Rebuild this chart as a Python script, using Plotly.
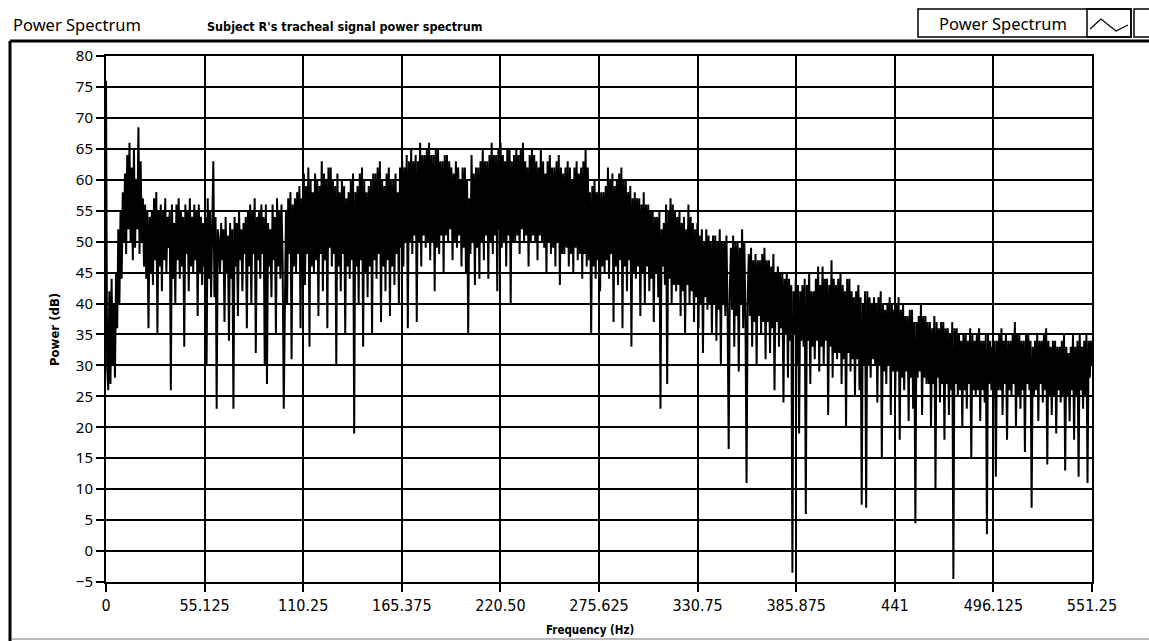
import plotly.graph_objects as go

# ---------------------------------------------------------------------------
# Spectrum data: one value every 0.625 Hz from 0 to 551.25 Hz (dB)
# Each row below covers 10 Hz (16 bins).
# ---------------------------------------------------------------------------
bin_width_hz = 0.625

power_db = [
    76, 30, 26, 42, 27, 44, 30, 40, 28, 45, 36, 52, 40, 55, 44, 58,          # 0 Hz
    50, 61, 48, 64, 52, 66, 50, 62, 47, 65, 49, 60, 52, 68.5, 48, 63,        # 10
    50, 57, 46, 56, 44, 55, 36, 54, 45, 55, 43, 57, 47, 58, 35, 55,          # 20
    46, 56, 42, 55, 47, 57, 45, 54, 49, 55, 26, 56, 44, 53, 40, 56,          # 30
    47, 57, 44, 55, 46, 54, 33, 56, 48, 55, 42, 57, 46, 54, 45, 56,          # 40
    47, 55, 38, 56, 45, 54, 43, 53, 46, 54, 30, 57, 44, 55, 41, 56,          # 50
    63, 41, 54, 23, 52, 50, 45, 53, 47, 52, 37, 54, 45, 51, 34, 53,          # 60
    44, 52, 23, 54, 46, 53, 38, 55, 47, 52, 42, 53, 48, 54, 36, 55,          # 70
    46, 56, 40, 55, 48, 57, 32, 54, 47, 55, 44, 56, 48, 54, 30, 56,          # 80
    27, 53, 46, 52, 41, 56, 47, 54, 35, 57, 46, 55, 44, 56, 47, 23,          # 90
    47, 55, 40, 57, 48, 58, 31, 56, 46, 57, 45, 58, 48, 59, 36, 57,          # 100
    47, 61, 43, 59, 48, 62, 33, 60, 46, 58, 45, 61, 47, 60, 38, 59,          # 110
    48, 63, 42, 61, 47, 60, 36, 62, 49, 62, 46, 60, 48, 59, 30, 61,          # 120
    46, 58, 42, 60, 48, 59, 35, 57, 46, 58, 44, 60, 47, 61, 19, 58,          # 130
    46, 59, 40, 61, 47, 62, 33, 60, 45, 58, 41, 59, 46, 60, 35, 61,          # 140
    47, 61, 44, 62, 48, 63, 37, 60, 46, 59, 42, 61, 47, 62, 38, 60,          # 150
    46, 60, 43, 61, 48, 58, 40, 62, 49, 63, 46, 62, 50, 64, 36, 63,          # 160
    50, 65, 48, 63, 51, 64, 37, 63, 50, 66, 46, 64, 51, 64, 49, 65,          # 170
    50, 66, 47, 64, 50, 64, 42, 65, 49, 65, 48, 63, 51, 63, 45, 64,          # 180
    51, 64, 50, 63, 52, 62, 47, 61, 50, 63, 49, 62, 51, 60, 46, 62,          # 190
    49, 62, 45, 60, 35, 57, 48, 64, 50, 61, 43, 62, 49, 62, 44, 63,          # 200
    50, 65, 47, 63, 51, 63, 44, 64, 50, 66, 48, 64, 51, 64, 42, 65,          # 210
    52, 66, 49, 64, 50, 63, 46, 65, 51, 65, 40, 63, 50, 64, 50, 65,          # 220
    51, 64, 48, 65, 52, 66, 50, 63, 51, 62, 46, 64, 50, 65, 51, 64,          # 230
    50, 63, 47, 62, 51, 65, 50, 63, 49, 61, 45, 63, 50, 64, 48, 62,          # 240
    49, 62, 46, 63, 50, 64, 43, 62, 48, 61, 48, 62, 49, 63, 46, 62,          # 250
    48, 60, 45, 62, 49, 63, 47, 61, 48, 62, 44, 63, 48, 65, 46, 62,          # 260
    47, 58, 35, 59, 46, 60, 44, 58, 47, 59, 42, 58, 46, 58, 45, 59,          # 270
    47, 62, 44, 60, 48, 61, 37, 59, 46, 60, 43, 61, 47, 62, 36, 60,          # 280
    46, 60, 42, 58, 47, 59, 33, 57, 45, 58, 44, 57, 46, 57, 38, 56,          # 290
    45, 58, 40, 56, 46, 56, 42, 55, 44, 55, 37, 54, 45, 54, 41, 55,          # 300
    23, 52, 46, 53, 43, 56, 27, 55, 44, 57, 40, 56, 43, 55, 42, 54,          # 310
    43, 55, 38, 53, 42, 54, 35, 52, 43, 56, 40, 54, 42, 53, 37, 52,          # 320
    41, 53, 36, 51, 40, 52, 32, 50, 41, 52, 39, 51, 40, 50, 35, 51,          # 330
    40, 51, 34, 50, 39, 52, 30, 50, 40, 50, 38, 51, 39, 16.5, 42, 49,        # 340
    39, 51, 33, 50, 38, 50, 29, 49, 40, 52, 36, 50, 38, 11, 41, 48,          # 350
    38, 49, 33, 47, 37, 48, 30, 47, 38, 47, 35, 48, 37, 49, 31, 47,          # 360
    37, 47, 32, 46, 36, 48, 26, 45, 37, 46, 33, 45, 36, 45, 24, 44,          # 370
    35, 45, 28, 44, 34, 43, -3.5, 42, 35, 44, 30, 43, 19, 42, 34, 43,        # 380
    33, 44, 6, 43, 34, 45, 27, 42, 33, 42, 31, 44, 34, 46, 29, 43,           # 390
    33, 46, 30, 44, 34, 44, 22, 43, 33, 47, 28, 44, 32, 43, 31, 44,          # 400
    32, 45, 27, 43, 31, 42, 20, 44, 32, 44, 29, 42, 31, 41, 25, 42,          # 410
    31, 43, 26, 41, 7.5, 40, 30, 42, 7, 42, 30, 41, 28, 40, 31, 41,          # 420
    30, 40, 24, 41, 30, 42, 15, 40, 29, 39, 27, 40, 30, 41, 22, 40,          # 430
    29, 39, 25, 40, 29, 41, 18, 39, 28, 40, 26, 38, 29, 38, 21, 39,          # 440
    28, 39, 23, 37, 4.5, 37, 28, 38, 29, 40, 22, 38, 28, 38, 27, 37,         # 450
    27, 37, 20, 36, 27, 38, 10, 37, 28, 36, 24, 37, 27, 37, 18, 36,          # 460
    27, 36, 22, 35, 26, 37, -4.5, 36, 27, 36, 25, 35, 26, 34, 20, 35,        # 470
    26, 35, 23, 34, 27, 36, 15, 35, 26, 34, 25, 35, 26, 36, 21, 34,          # 480
    26, 34, 24, 35, 2.7, 35, 27, 34, 26, 33, 25, 34, 12, 34, 26, 35,         # 490
    26, 36, 22, 34, 27, 35, 18, 34, 26, 34, 25, 35, 27, 37, 20, 35,          # 500
    25, 35, 23, 34, 26, 34, 16, 35, 27, 35, 26, 34, 7, 33, 25, 34,           # 510
    26, 35, 21, 34, 27, 34, 24, 35, 26, 36, 14, 34, 25, 33, 22, 34,          # 520
    25, 34, 19, 33, 26, 33, 24, 34, 25, 35, 13, 33, 25, 32, 21, 33,          # 530
    26, 35, 18, 33, 25, 34, 12, 35, 26, 33, 23, 34, 25, 35, 11, 34,          # 540
    28, 34, 30,                                                              # 550
]

frequency_hz = [i * bin_width_hz for i in range(len(power_db))]

x_tick_values = [0, 55.125, 110.25, 165.375, 220.5, 275.625,
                 330.75, 385.875, 441, 496.125, 551.25]
x_tick_labels = ["0", "55.125", "110.25", "165.375", "220.50", "275.625",
                 "330.75", "385.875", "441", "496.125", "551.25"]
y_tick_values = list(range(-5, 81, 5))

# ---------------------------------------------------------------------------
# Layout geometry (pixels)
# ---------------------------------------------------------------------------
FIG_W, FIG_H = 1149, 641
L, R, T, B = 106, 57, 56, 59
PW, PH = FIG_W - L - R, FIG_H - T - B


def px(x):
    return (x - L) / PW


def py(y):
    return 1 - (y - T) / PH


REG = "Noto Sans, DejaVu Sans, sans-serif"
NARROW = "DejaVu Sans Condensed, Liberation Sans Narrow, Arial Narrow, sans-serif"

fig = go.Figure()
fig.add_trace(go.Scatter(
    x=frequency_hz, y=power_db, mode="lines",
    line=dict(color="black", width=2),
    name="Power Spectrum", hoverinfo="x+y", showlegend=False,
))

fig.update_layout(
    width=FIG_W, height=FIG_H, autosize=False,
    margin=dict(l=L, r=R, t=T, b=B, pad=0),
    paper_bgcolor="white", plot_bgcolor="white",
    showlegend=False,
    xaxis=dict(
        range=[0, 551.25], tickmode="array",
        tickvals=x_tick_values, ticktext=x_tick_labels,
        showgrid=True, gridcolor="black", gridwidth=1.8,
        zeroline=False, showline=True, mirror=True,
        linecolor="black", linewidth=2,
        ticks="outside", ticklen=8, tickwidth=1.5, tickcolor="black",
        tickfont=dict(family=NARROW, size=16, color="black"),
    ),
    yaxis=dict(
        range=[-5, 80], tickmode="array", tickvals=y_tick_values,
        showgrid=True, gridcolor="black", gridwidth=1.8,
        zeroline=False, showline=True, mirror=True,
        linecolor="black", linewidth=2,
        ticks="outside", ticklen=8, tickwidth=1.5, tickcolor="black",
        tickfont=dict(family=REG, size=15, color="black"),
    ),
)

# Panel frame (left and top edges) and faint bottom edge
shapes = [
    dict(type="line", xref="paper", yref="paper",
         x0=px(10), x1=px(1149), y0=py(41), y1=py(41),
         line=dict(color="black", width=3)),
    dict(type="line", xref="paper", yref="paper",
         x0=px(10), x1=px(10), y0=py(41), y1=py(641),
         line=dict(color="black", width=3)),
    dict(type="line", xref="paper", yref="paper",
         x0=px(12), x1=px(1149), y0=py(639), y1=py(639),
         line=dict(color="#bbbbbb", width=2)),
    # legend box
    dict(type="rect", xref="paper", yref="paper",
         x0=px(918), x1=px(1131), y0=py(37), y1=py(9),
         line=dict(color="black", width=1.5), fillcolor="white"),
    dict(type="rect", xref="paper", yref="paper",
         x0=px(1087), x1=px(1131), y0=py(37), y1=py(9),
         line=dict(color="black", width=1.5)),
    dict(type="rect", xref="paper", yref="paper",
         x0=px(1134), x1=px(1152), y0=py(37), y1=py(9),
         line=dict(color="black", width=1.5)),
    # legend line glyph
    dict(type="path", xref="paper", yref="paper",
         path=(f"M {px(1090)},{py(29)} L {px(1101)},{py(19)} "
               f"L {px(1116)},{py(31)} L {px(1128)},{py(25)}"),
         line=dict(color="black", width=1.2)),
]
fig.update_layout(shapes=shapes)

annotations = [
    dict(text="Power Spectrum", xref="paper", yref="paper",
         x=px(11), y=py(25), xanchor="left", yanchor="middle",
         showarrow=False, font=dict(family=REG, size=16.5, color="black")),
    dict(text="<b>Subject R's tracheal signal power spectrum</b>",
         xref="paper", yref="paper",
         x=px(205), y=py(26), xanchor="left", yanchor="middle",
         showarrow=False, font=dict(family=NARROW, size=12.5, color="black")),
    dict(text="Power Spectrum", xref="paper", yref="paper",
         x=px(1003), y=py(23), xanchor="center", yanchor="middle",
         showarrow=False, font=dict(family=REG, size=16.5, color="black")),
    dict(text="<b>Frequency (Hz)</b>", xref="paper", yref="paper",
         x=px(590), y=py(630), xanchor="center", yanchor="middle",
         showarrow=False, font=dict(family=NARROW, size=11.5, color="black")),
    dict(text="<b>Power (dB)</b>", xref="paper", yref="paper",
         x=px(54), y=py(330), xanchor="center", yanchor="middle",
         textangle=-90, showarrow=False,
         font=dict(family=NARROW, size=13, color="black")),
]
fig.update_layout(annotations=annotations)

fig.write_html("out.html")
